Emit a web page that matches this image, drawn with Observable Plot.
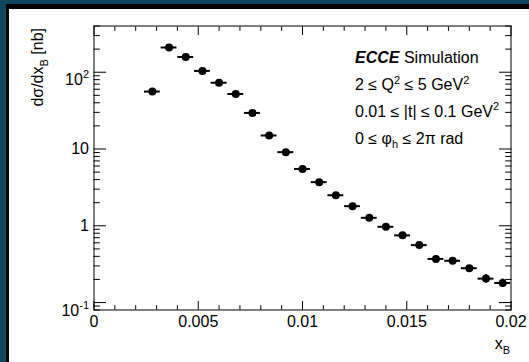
<!DOCTYPE html>
<html>
<head>
<meta charset="utf-8">
<script src="https://cdn.jsdelivr.net/npm/d3@7"></script>
<script src="https://cdn.jsdelivr.net/npm/@observablehq/plot@0.6"></script>
<style>
  html, body { margin: 0; padding: 0; background: #fff; overflow: hidden; }
  #wrap { position: relative; width: 529px; height: 362px; overflow: hidden; background: #fff; }
  #wrap > svg { position: absolute; left: 0; top: 0; }
  /* canvas edge: dark blue outer band with a black inner band, top and left only */
  #edge {
    position: absolute; left: 0; top: 0; width: 529px; height: 362px; box-sizing: border-box;
    border-left: 6px solid #0f465f; border-top: 4px solid #0f465f; pointer-events: none;
  }
  #edge > div {
    width: 100%; height: 100%; box-sizing: border-box;
    border-left: 3px solid #000; border-top: 5px solid #000;
  }
</style>
</head>
<body>
<div id="wrap"><div id="edge"><div></div></div></div>
<script>
// x_B bin centres (bin width 0.0008)
const xB = [0.0028, 0.0036, 0.0044, 0.0052, 0.0060, 0.0068, 0.0076, 0.0084, 0.0092, 0.0100, 0.0108,
            0.0116, 0.0124, 0.0132, 0.0140, 0.0148, 0.0156, 0.0164, 0.0172, 0.0180, 0.0188, 0.0196];
// dσ/dx_B in nb
const dSigma = [56, 210, 158, 104, 73, 52, 29.5, 15, 9.1, 5.5, 3.7,
                2.5, 1.8, 1.27, 0.97, 0.75, 0.56, 0.37, 0.35, 0.28, 0.205, 0.18];
// statistical uncertainty on dσ/dx_B in nb
const dSigmaErr = [1.5, 4, 3, 2.2, 1.6, 1.2, 0.7, 0.4, 0.25, 0.16, 0.11,
                   0.08, 0.06, 0.045, 0.036, 0.03, 0.024, 0.018, 0.018, 0.016, 0.026, 0.022];
// half-length of the horizontal bars, in x_B
const xBarHalf = 0.00038;

const xMajorTicks = [0, 0.005, 0.01, 0.015, 0.02];
const xTickLabels = ["0", "0.005", "0.01", "0.015", "0.02"];
const xMinorTicks = [0.001, 0.002, 0.003, 0.004, 0.006, 0.007, 0.008, 0.009, 0.011, 0.012, 0.013, 0.014,
                     0.016, 0.017, 0.018, 0.019];
const yMajorTicks = [0.1, 1, 10, 100];
const yTickLabels = ["10^-1", "1", "10", "10^2"];
const yMinorTicks = [0.08, 0.09, 0.2, 0.3, 0.4, 0.5, 0.6, 0.7, 0.8, 0.9, 2, 3, 4, 5, 6, 7, 8, 9,
                     20, 30, 40, 50, 60, 70, 80, 90, 200, 300, 400];

const xTitle = [{t: "x"}, {t: "B", sub: true}];
const yTitle = [{t: "dσ/dx"}, {t: "B", sub: true}, {t: " [nb]"}];
const notes = [
  [{t: "ECCE", bold: true}, {t: " Simulation"}],
  [{t: "2 ≤ Q"}, {t: "2", sup: true}, {t: " ≤ 5 GeV"}, {t: "2", sup: true}],
  [{t: "0.01 ≤ |t| ≤ 0.1 GeV"}, {t: "2", sup: true}],
  [{t: "0 ≤ φ"}, {t: "h", sub: true}, {t: " ≤ 2π rad"}]
];

const FONT = "'Liberation Sans', Arial, Helvetica, sans-serif";
const rows = xB.map((x, i) => ({x, y: dSigma[i], e: dSigmaErr[i]}));
const blank = () => "";

const chart = Plot.plot({
  width: 529,
  height: 362,
  marginLeft: 93.5,
  marginRight: 18.5,
  marginTop: 25.5,
  marginBottom: 52.5,
  style: {fontFamily: FONT, fontSize: "16px", background: "transparent", color: "black", overflow: "visible"},
  x: {domain: [0, 0.02]},
  y: {type: "log", domain: [0.08, 400]},
  marks: [
    Plot.frame({stroke: "black", strokeWidth: 1}),
    // inward ticks on all four sides
    Plot.axisX(xMinorTicks, {anchor: "bottom", tickSize: -4.3, tickFormat: blank, label: null}),
    Plot.axisX(xMajorTicks, {anchor: "bottom", tickSize: -8.5, tickFormat: blank, label: null}),
    Plot.axisX(xMinorTicks, {anchor: "top", tickSize: -4.3, tickFormat: blank, label: null}),
    Plot.axisX(xMajorTicks, {anchor: "top", tickSize: -8.5, tickFormat: blank, label: null}),
    Plot.axisY(yMinorTicks, {anchor: "left", tickSize: -6.3, tickFormat: blank, label: null}),
    Plot.axisY(yMajorTicks, {anchor: "left", tickSize: -12.5, tickFormat: blank, label: null}),
    Plot.axisY(yMinorTicks, {anchor: "right", tickSize: -6.3, tickFormat: blank, label: null}),
    Plot.axisY(yMajorTicks, {anchor: "right", tickSize: -12.5, tickFormat: blank, label: null}),
    // tick labels
    Plot.axisX(xMajorTicks, {anchor: "bottom", tickSize: 0, tickPadding: 5.5, fontSize: 16, label: null,
      tickFormat: d => xTickLabels[xMajorTicks.indexOf(d)]}),
    Plot.axisY(yMajorTicks, {anchor: "left", tickSize: 0, tickPadding: 5, fontSize: 16, label: null,
      tickFormat: d => yTickLabels[yMajorTicks.indexOf(d)]}),
    // data: error bars and markers
    Plot.ruleY(rows, {y: "y", x1: d => d.x - xBarHalf, x2: d => d.x + xBarHalf, stroke: "black", strokeWidth: 2}),
    Plot.ruleX(rows, {x: "x", y1: d => d.y - d.e, y2: d => d.y + d.e, stroke: "black", strokeWidth: 2}),
    Plot.dot(rows, {x: "x", y: "y", r: 4, fill: "black", stroke: "none"})
  ]
});

const wrap = document.getElementById("wrap");
wrap.insertBefore(chart, wrap.firstChild);
const svg = d3.select(chart);

// exponents on the log-axis labels
svg.selectAll('g[aria-label="y-axis tick label"] text').each(function () {
  const s = this.textContent;
  if (!s.includes("^")) return;
  const [base, exp] = s.split("^");
  const t = d3.select(this);
  t.text(null).attr("dy", "0.5em");
  t.append("tspan").text(base);
  t.append("tspan").attr("font-size", 11).attr("dy", -7).text(exp);
});

// rich text helper: sub/superscripts via dy shifts
function rich(sel, segs) {
  let shift = 0;
  segs.forEach(s => {
    const want = s.sup ? -6.5 : s.sub ? 4.5 : 0;
    const sp = sel.append("tspan").text(s.t).attr("dy", want - shift);
    shift = want;
    if (s.sup || s.sub) sp.attr("font-size", 11);
    if (s.bold) sp.attr("font-weight", "bold").attr("font-style", "italic");
  });
}

const g = svg.append("g").attr("font-family", FONT).attr("font-size", 16).attr("fill", "black")
  .attr("text-anchor", "start");

// axis titles
rich(g.append("text").attr("x", 510).attr("y", 349).attr("text-anchor", "end"), xTitle);
rich(g.append("text").attr("text-anchor", "end").attr("transform", "translate(43,28) rotate(-90)"), yTitle);

// annotation block
const noteBaselines = [63.3, 90, 116.7, 143.5];
notes.forEach((line, i) =>
  rich(g.append("text").attr("x", 355).attr("y", noteBaselines[i]).attr("text-anchor", "start"), line));
</script>
</body>
</html>
